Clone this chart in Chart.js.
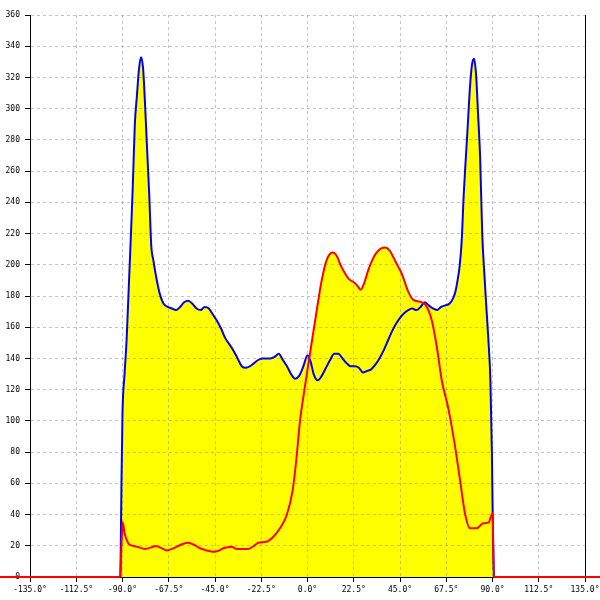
<!DOCTYPE html>
<html>
<head>
<meta charset="utf-8">
<script src="https://cdn.jsdelivr.net/npm/chart.js@4.4.1/dist/chart.umd.min.js"></script>
<style>
  body { margin: 0; background: #fff; }
  #wrap { width: 600px; height: 600px; }
</style>
</head>
<body>
<div id="wrap"><canvas id="polarChart" width="600" height="600"></canvas></div>
<script>
// angle ticks on the x axis
var xTicks = [-135, -112.5, -90, -67.5, -45, -22.5, 0, 22.5, 45, 67.5, 90, 112.5, 135];

// blue curve (angle, value)
var blueAngles = [-91, -90.5, -90, -89, -88, -87, -86, -85, -84, -83, -82, -81, -80, -79, -78, -77, -76, -75, -74, -73, -72, -70, -68, -66, -64, -62, -60, -58, -56, -54, -52, -50, -48, -46, -44, -42, -40, -38, -36, -34, -32, -30, -28, -26, -24, -22, -20, -18, -16, -14, -12, -10, -8, -6, -4, -2, 0, 1.5, 3, 5, 7, 9, 11, 13, 15, 17, 19, 21, 23, 25, 27, 29, 31, 33, 35, 37, 39, 41, 43, 45, 47, 49, 51, 53, 55, 57, 59, 61, 63, 65, 67, 69, 71, 72, 73, 74, 75, 76, 77, 78, 79, 80, 81, 82, 83, 84, 85, 86, 87, 88, 89, 89.7, 90.2, 90.7];
var blueValues = [0, 60, 105, 130, 152, 184, 216, 250, 290, 308, 325, 333, 326, 302, 273, 245, 212, 203, 195, 188, 182, 175, 173, 172, 171, 173, 176, 177, 175, 172, 171, 173, 172, 168, 164, 159, 153, 149, 145, 140, 135, 134, 135, 137, 139, 140, 140, 140, 141, 143, 139, 135, 130, 127, 129, 135, 142, 138, 130, 126, 129, 134, 139, 143, 143, 140, 137, 135, 135, 134, 131, 132, 133, 136, 140, 145, 151, 157, 162, 166, 169, 171, 172, 171, 173, 176, 174, 172, 171, 173, 174, 175, 179, 183, 190, 199, 215, 245, 268, 290, 313, 328, 332, 322, 296, 268, 220, 195, 173, 152, 125, 80, 30, 0];

// red curve (angle, value)
var redAngles = [-150, -91.2, -90.5, -89.9, -89, -87.2, -85, -83, -79, -76, -74, -71, -68.5, -66, -63.6, -61, -58, -55, -52.3, -49, -45.8, -43, -41, -37, -34.4, -31, -28.8, -26, -24, -20, -16.6, -13.4, -10.1, -7.2, -5.3, -3.6, -2.3, 1.2, 4.5, 6.9, 9.3, 12.3, 14.5, 16, 18.2, 20, 22.3, 24, 25.9, 27.5, 29.6, 31.5, 33.7, 37.7, 40, 41.7, 44, 45.8, 49, 51.5, 54.7, 57.6, 60.4, 62.9, 65.3, 68.5, 71.8, 74.2, 76.6, 79, 82.3, 85.5, 88, 90.1, 90.6, 150];
var redValues = [0, 0, 20, 35, 28, 21.6, 20, 19.4, 18, 19, 19.9, 18.5, 17, 18, 19.4, 21, 22, 20.5, 18.4, 17, 16.2, 17, 18.4, 19.4, 18, 18, 18, 20, 22, 22.6, 25.8, 31.2, 39.7, 55.7, 77, 100.6, 113, 143, 171, 190, 203, 207.8, 205, 200, 194.5, 191, 189, 187, 184, 188, 196.7, 203, 208, 211, 209, 205, 199, 194.5, 182.8, 177.5, 176.4, 174, 164.6, 147.5, 126, 108, 83.5, 62, 40.8, 31.2, 31.2, 34.4, 34.8, 41, 0, 0];

function toPoints(xs, ys) {
  return xs.map(function (x, i) { return { x: x, y: ys[i] }; });
}

var tickFont = { family: '"DejaVu Sans Mono", monospace', size: 8 };
var gridColor = 'rgba(140,140,140,0.5)';

var chart = new Chart(document.getElementById('polarChart'), {
  type: 'line',
  data: {
    datasets: [{
      data: toPoints(redAngles, redValues),
      borderColor: '#ff0000',
      backgroundColor: '#ffff00',
      borderWidth: 2,
      fill: 'origin',
      pointRadius: 0,
      cubicInterpolationMode: 'monotone',
      clip: false
    }, {
      data: toPoints(blueAngles, blueValues),
      borderColor: '#0000ee',
      backgroundColor: '#ffff00',
      borderWidth: 2,
      fill: 'origin',
      pointRadius: 0,
      cubicInterpolationMode: 'monotone'
    }]
  },
  options: {
    responsive: false,
    animation: false,
    layout: { padding: { top: 15, left: 0, right: 0, bottom: 0 } },
    plugins: {
      legend: { display: false },
      tooltip: { enabled: false },
      filler: { drawTime: 'beforeDraw' }
    },
    scales: {
      x: {
        type: 'linear',
        min: -135,
        max: 135,
        afterBuildTicks: function (axis) {
          axis.ticks = xTicks.map(function (v) { return { value: v }; });
        },
        afterFit: function (scale) {
          scale.height = 23;
          scale.paddingLeft = 0;
          scale.paddingRight = 0;
        },
        ticks: {
          font: tickFont,
          color: '#000',
          padding: 3,
          maxRotation: 0,
          autoSkip: false,
          callback: function (v) { return Number(v).toFixed(1) + '\u00b0'; }
        },
        grid: {
          color: gridColor,
          tickColor: '#000',
          tickLength: 5,
          tickBorderDash: []
        },
        border: { color: '#000', width: 1, dash: [3, 3] }
      },
      y: {
        position: 'left',
        min: 0,
        max: 360,
        afterFit: function (scale) { scale.width = 30; },
        ticks: { stepSize: 20, font: tickFont, color: '#000', padding: 5 },
        grid: {
          color: gridColor,
          tickColor: '#000',
          tickLength: 5,
          tickBorderDash: []
        },
        border: { color: '#000', width: 1, dash: [3, 3] }
      },
      y2: {
        position: 'right',
        min: 0,
        max: 360,
        afterFit: function (scale) { scale.width = 15; },
        ticks: { display: false },
        grid: { drawOnChartArea: false, drawTicks: false },
        border: { color: '#000', width: 1 }
      }
    }
  }
});
</script>
</body>
</html>
